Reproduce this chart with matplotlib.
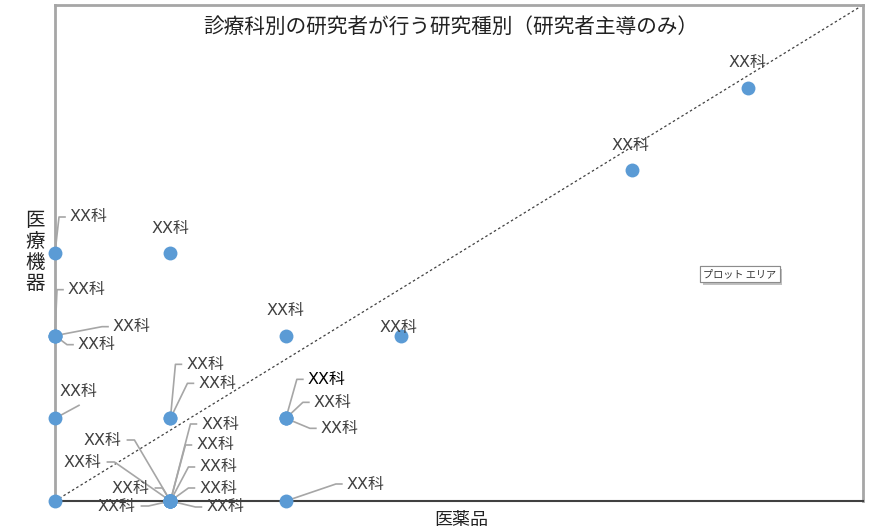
import matplotlib
matplotlib.use("Agg")
import matplotlib.pyplot as plt
import matplotlib.transforms as mtransforms
import matplotlib.patheffects as pe

plt.rcParams['font.family'] = ['Noto Sans CJK JP', 'DejaVu Sans']

title = '診療科別の研究者が行う研究種別（研究者主導のみ）'
x_label = '医薬品'
y_label = '医療機器'

# one entry per department: number of drug studies / device studies
medicine = [0, 1, 0, 0, 0, 2, 3, 0, 1, 1, 2, 2, 2, 2,
            1, 1, 1, 1, 1, 1, 1, 1, 1, 5, 6, 0]
device = [3, 3, 2, 2, 2, 2, 2, 1, 1, 1, 1, 1, 1, 0,
          0, 0, 0, 0, 0, 0, 0, 0, 0, 4, 5, 0]
names = ['XX科'] * 25 + ['']

# label placement in pixels from the marker: dx, dy, alignment, leader
label_pos = [
    (15, 36, 'left', 'elbow'),
    (0, 25, 'center', None),
    (13, 46, 'left', 'elbow'),
    (58, 9, 'left', 'elbow'),
    (23, -9, 'left', 'elbow'),
    (0, 25, 'center', None),
    (-3, 8, 'center', None),
    (5, 27, 'left', (24, 13)),
    (16, 54, 'left', 'elbow'),
    (28, 35, 'left', 'elbow'),
    (22, 39, 'left', 'elbow'),
    (28, 16, 'left', 'elbow'),
    (35, -10, 'left', 'elbow'),
    (61, 17, 'left', 'elbow'),
    (-49, 61, 'right', 'elbow'),
    (-69, 39, 'right', 'elbow'),
    (-21, 13, 'right', 'elbow'),
    (-35, -5, 'right', 'elbow'),
    (31, 77, 'left', 'elbow'),
    (26, 56, 'left', 'elbow'),
    (29, 34, 'left', 'elbow'),
    (29, 13, 'left', 'elbow'),
    (36, -6, 'left', 'elbow'),
    (-2, 25, 'center', None),
    (0, 25, 'center', None),
    None,
]
# the one label that was edited by hand shows in plain black
dark_label = 10

W, H = 877, 532
fig = plt.figure(figsize=(W / 100, H / 100), dpi=100)
ax = fig.add_axes([55 / W, 31 / H, 808 / W, 496 / H])
ax.set_xlim(0, 7)
ax.set_ylim(0, 6)
ax.set_xticks([])
ax.set_yticks([])
for side in ['left', 'top', 'right']:
    ax.spines[side].set_color('#a6a6a6')
    ax.spines[side].set_linewidth(2)
ax.spines['bottom'].set_color('#404040')
ax.spines['bottom'].set_linewidth(1.5)

# y = x line in chart units (corner to corner)
ax.plot([0, 7], [0, 6], color='#404040', lw=0.9, dashes=(2, 2), zorder=2)

ax.plot(medicine, device, 'o', color='#5b9bd5', markersize=10,
        markeredgewidth=0, clip_on=False, zorder=5)

for i, (mx, my, name, pos) in enumerate(zip(medicine, device, names, label_pos)):
    if pos is None or not name:
        continue
    dx, dy, ha, leader = pos
    px, py = ax.transData.transform((mx, my))
    shift = mtransforms.Affine2D().translate(px, py)
    if leader == 'elbow':
        if ha == 'right':
            xs = [0, dx + 13, dx + 6]
        else:
            xs = [0, dx - 11, dx - 5]
        ys = [0, dy, dy]
    elif leader is not None:
        xs, ys = [0, leader[0]], [0, leader[1]]
    else:
        xs = ys = None
    if xs is not None:
        ax.add_line(plt.Line2D(xs, ys, transform=shift, color='#a6a6a6',
                               lw=1.2, clip_on=False, zorder=4))
    ax.annotate(name, xy=(mx, my), xytext=(dx, dy), textcoords='offset pixels',
                ha=ha, va='center', fontsize=11.5,
                color='#000000' if i == dark_label else '#404040', zorder=6,
                family=['DejaVu Sans', 'Noto Sans CJK JP'])

ax.text(0.49, 0.955, title, transform=ax.transAxes, ha='center', va='center',
        fontsize=14.9, color='#222222')
fig.text(35 / W, 1 - 252 / H, '\n'.join(y_label), ha='center', va='center',
         fontsize=14, linespacing=0.98, color='#222222')
fig.text(461 / W, 1 - 520 / H, x_label, ha='center', va='center',
         fontsize=13, color='#222222')

tip = fig.text(740 / W, 1 - 274 / H, 'プロット エリア', ha='center', va='center',
               fontsize=7.3, color='#333333',
               bbox=dict(boxstyle='square,pad=0.3', fc='white', ec='#8c8c8c', lw=0.8))
tip.get_bbox_patch().set_path_effects(
    [pe.withSimplePatchShadow(offset=(2, -2), shadow_rgbFace='#999999', alpha=0.6), pe.Normal()])

fig.savefig('out.png', dpi=100)
